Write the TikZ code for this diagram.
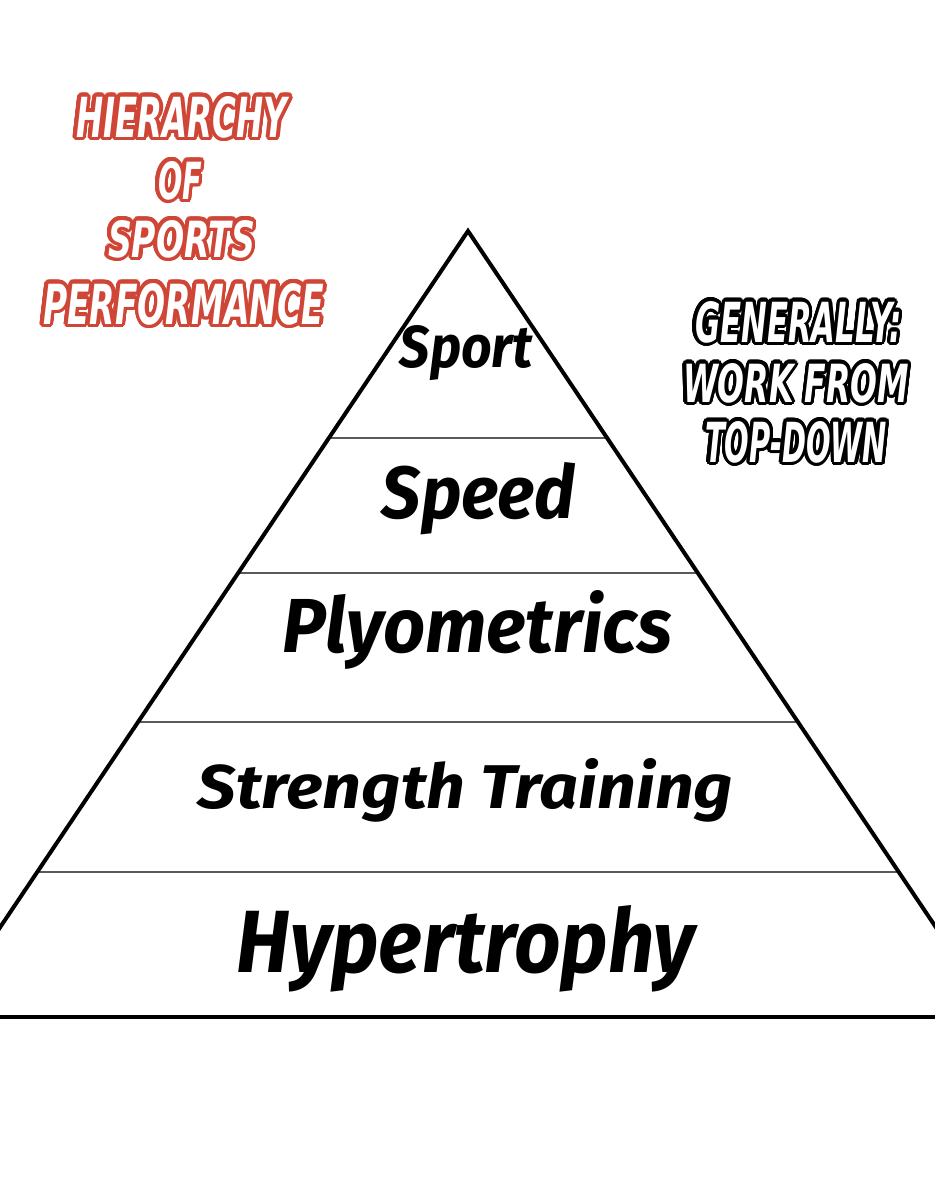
\documentclass[tikz,border=0pt]{standalone}
\usepackage{fontspec}
\usepackage{graphicx}
\usetikzlibrary{calc}
\newfontfamily\handfont{Fira Sans}
\newfontfamily\comicfont{DejaVu Sans}
\definecolor{titlered}{RGB}{208,70,54}
\newlength\olw
\newlength\olh
\tikzset{
  edgeln/.style={line width=3pt, black, line cap=round},
  tierln/.style={line width=2.2pt, black!65},
  baseln/.style={line width=3.6pt, black},
  hand/.style={inner sep=0pt, anchor=base, font=\handfont\bfseries\itshape, text=black},
  olcopy/.style={inner sep=0pt, anchor=base, transform shape},
}
% #1 name, #2 position, #3 width, #4 height, #5 outline radius, #6 outline colour, #7 fill colour, #8 font, #9 text
\newcommand\olnode[9]{%
  \pgfinterruptpicture
    \settowidth\olw{#8#9}\global\olw=\olw
    \settoheight\olh{#8#9}\global\olh=\olh
  \endpgfinterruptpicture
  \pgfmathsetmacro\olsx{#3/\olw}\pgfmathsetmacro\olsy{#4/\olh}%
  \foreach \a in {0,15,...,345}{%
    \node[olcopy, text=#6, font=#8, xscale=\olsx, yscale=\olsy] (#1-\a) at ($#2+(\a:#5)$) {#9};}%
  \node[olcopy, text=#7, font=#8, xscale=\olsx, yscale=\olsy] (#1) at #2 {#9};}
\newcommand\fittext[3]{\resizebox{#1}{#2}{#3}}
\newcommand\ttlfont{\comicfont\bfseries\itshape}
\begin{document}
\begin{tikzpicture}[x=0.75pt,y=-0.75pt]
\fill[white] (0,0) rectangle (935,1200);
\useasboundingbox (0,0) rectangle (935,1200);
\begin{scope}
\clip (0,0) rectangle (935,1200);
% pyramid geometry
\coordinate (A) at (468,231);
\coordinate (L1) at (328.9,438);  \coordinate (R1) at (607.1,438);
\coordinate (L2) at (238.2,573);  \coordinate (R2) at (697.8,573);
\coordinate (L3) at (138.0,722);  \coordinate (R3) at (798.0,722);
\coordinate (L4) at (37.2,872);   \coordinate (R4) at (898.8,872);
\coordinate (L5) at (-60.2,1017); \coordinate (R5) at (996.2,1017);
\coordinate (B0) at (-5,1017);    \coordinate (B1) at (940,1017);
\draw[tierln] (L1) -- (R1);
\draw[tierln] (L2) -- (R2);
\draw[tierln] (L3) -- (R3);
\draw[tierln] (L4) -- (R4);
\draw[edgeln] (L5) -- (A) -- (R5);
\draw[baseln] (B0) -- (B1);
\end{scope}
% tier labels
\node[hand] (sport) at (466.5,367) {\fittext{99.75pt}{31.5pt}{Sport}};
\node[hand] (speed) at (478.5,518) {\fittext{144.75pt}{42pt}{Speed}};
\node[hand] (plyo) at (477.5,652) {\fittext{291.75pt}{46.5pt}{Plyometrics}};
\node[hand] (strength) at (465.5,808) {\fittext{401.25pt}{37.5pt}{Strength Training}};
\node[hand] (hyper) at (466,972) {\fittext{343.5pt}{50.25pt}{Hypertrophy}};
% left title
\olnode{t1}{(181.5,137)}{158.25pt}{30.75pt}{2.7pt}{titlered}{white}{\ttlfont}{HIERARCHY}
\olnode{t2}{(180,199)}{33pt}{28.5pt}{2.7pt}{titlered}{white}{\ttlfont}{OF}
\olnode{t3}{(181.5,257)}{110.25pt}{27.75pt}{2.7pt}{titlered}{white}{\ttlfont}{SPORTS}
\olnode{t4}{(183.5,324)}{210.75pt}{30.75pt}{2.7pt}{titlered}{white}{\ttlfont}{PERFORMANCE}
% right note
\olnode{n1}{(798.5,342)}{155.25pt}{30.75pt}{2.4pt}{black}{white}{\ttlfont}{GENERALLY:}
\olnode{n2}{(796,402)}{169.5pt}{29.25pt}{2.4pt}{black}{white}{\ttlfont}{WORK FROM}
\olnode{n3}{(796,462)}{136.5pt}{30.75pt}{2.4pt}{black}{white}{\ttlfont}{TOP-DOWN}
\end{tikzpicture}
\end{document}
